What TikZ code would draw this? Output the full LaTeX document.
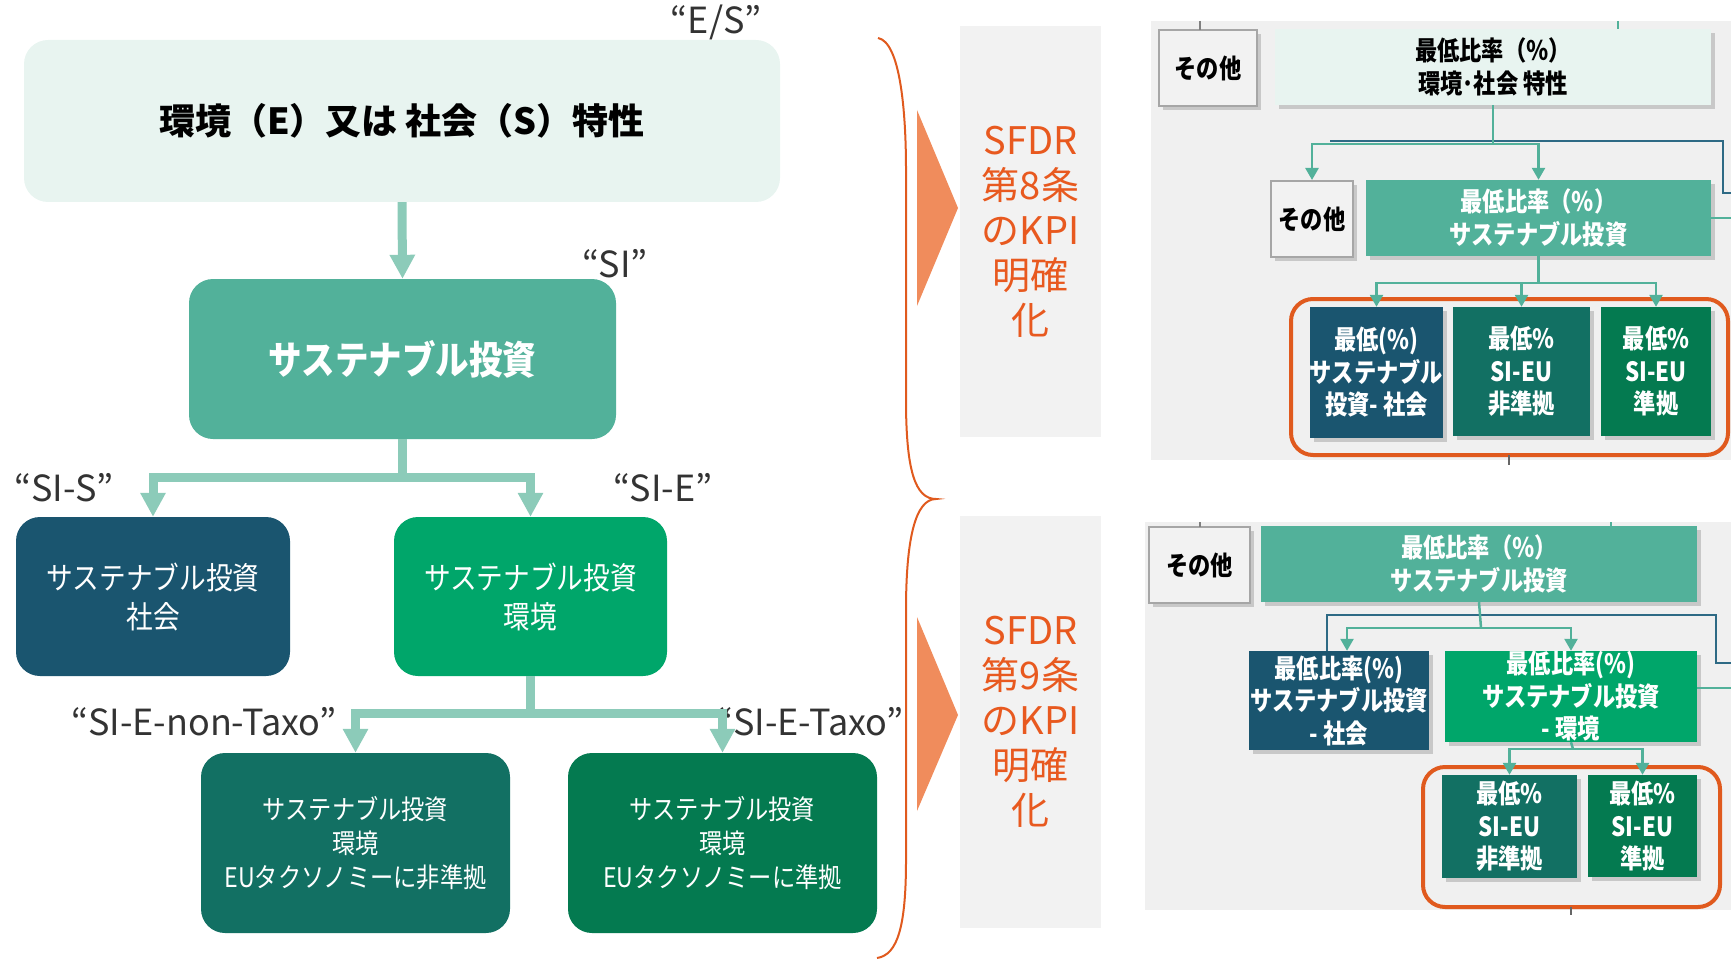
\documentclass[tikz,border=0pt]{standalone}
\usepackage{fontspec}
\setmainfont{Noto Sans CJK JP}
\newfontfamily\narrowjp[FakeStretch=0.86]{Noto Sans CJK JP}
\newfontfamily\boxjp[FakeStretch=0.84]{Noto Sans CJK JP}
\usetikzlibrary{arrows.meta,shadows}

\definecolor{mintpale}{HTML}{E8F4F0}
\definecolor{siteal}{HTML}{52B19A}
\definecolor{linkteal}{HTML}{8CCBB9}
\definecolor{socblue}{HTML}{1A556F}
\definecolor{envgreen}{HTML}{00A66A}
\definecolor{nontaxo}{HTML}{127063}
\definecolor{taxo}{HTML}{047A50}
\definecolor{sfdrorange}{HTML}{E8591F}
\definecolor{chevron}{HTML}{F08C5C}
\definecolor{panelgrey}{HTML}{F2F2F2}
\definecolor{shotgrey}{HTML}{F0F0F0}
\definecolor{framered}{HTML}{E05A1E}
\definecolor{linkblue}{HTML}{2E6A85}

\begin{document}
\begin{tikzpicture}[x=1pt, y=-1pt,
    bigbox/.style = {shape=rectangle, rounded corners=24pt, align=center,
      inner sep=0pt, text=white},
    tag/.style = {font=\fontsize{36}{36}\selectfont, text=black!80,
      inner sep=0pt},
    link/.style = {draw=linkteal, line width=9pt},
    linkarrow/.style = {link, -{Triangle[length=24pt,width=24pt]}},
    kpi/.style = {fill=panelgrey, minimum width=141pt, minimum height=411pt,
      align=center, text=sfdrorange, font=\fontsize{38}{45}\selectfont},
    minbox/.style = {shape=rectangle, align=center, inner sep=0pt, text=white,
      font=\boxjp\bfseries\fontsize{26.5}{32.5}\selectfont,
      drop shadow={shadow xshift=4pt, shadow yshift=-4pt, opacity=0.35}},
    otherbox/.style = {minbox, fill=panelgrey, draw=black!35, line width=2pt,
      text=black},
    minline/.style = {draw=siteal, line width=2.5pt},
    minlink/.style = {minline, -{Triangle[length=12pt,width=13pt]}},
    blueline/.style = {draw=linkblue, line width=2pt},
    frame/.style = {draw=framered, line width=4pt, rounded corners=22pt}]

  \useasboundingbox (0,0) rectangle (1731,960);

  \node[bigbox, fill=mintpale, text=black, minimum width=756pt, minimum height=162pt,
    font=\bfseries\fontsize{36}{36}\selectfont] (es) at (402,121) {環境（E）又は 社会（S）特性};
  \node[bigbox, fill=siteal, minimum width=427pt, minimum height=160pt,
    font=\narrowjp\bfseries\fontsize{39}{39}\selectfont] (si) at (402.5,359) {サステナブル投資};
  \node[bigbox, fill=socblue, minimum width=274pt, minimum height=159pt,
    font=\narrowjp\fontsize{31}{39}\selectfont] (sis) at (153,596.5) {サステナブル投資\\社会};
  \node[bigbox, fill=envgreen, minimum width=273pt, minimum height=159pt,
    font=\narrowjp\fontsize{31}{39}\selectfont] (sie) at (530.5,596.5) {サステナブル投資\\環境};
  \node[bigbox, fill=nontaxo, minimum width=309pt, minimum height=180pt,
    font=\narrowjp\fontsize{27}{34}\selectfont] (nontx) at (355.5,843)
    {サステナブル投資\\環境\\EUタクソノミーに非準拠};
  \node[bigbox, fill=taxo, minimum width=309pt, minimum height=180pt,
    font=\narrowjp\fontsize{27}{34}\selectfont] (tx) at (722.5,843)
    {サステナブル投資\\環境\\EUタクソノミーに準拠};

  \node[tag] (estag) at (716,22) {“E/S”};
  \node[tag] (sitag) at (615,264) {“SI”};
  \node[tag] (sistag) at (64,488) {“SI-S”};
  \node[tag] (sietag) at (663,488) {“SI-E”};
  \node[tag] (nontag) at (204,722) {“SI-E-non-Taxo”};
  \node[tag] (txtag) at (810,722) {“SI-E-Taxo”};

  \coordinate (fork1) at (402.5,477);
  \coordinate (fork2) at (530.5,713);
  \draw[linkarrow] (es.south) -- (si.north);
  \draw[link] (si.south) -- (fork1);
  \draw[linkarrow] (fork1) -| (sis.north);
  \draw[linkarrow] (fork1) -| (sie.north);
  \draw[link] (sie.south) -- (fork2);
  \draw[linkarrow] (fork2) -| (nontx.north);
  \draw[linkarrow] (fork2) -| (tx.north);

  \draw[framered, line width=2pt] (878,38) .. controls (900,42) and (906,110) .. (906,170)
    -- (906,400) .. controls (906,470) and (915,499) .. (936,499)
    .. controls (915,499) and (906,540) .. (906,610)
    -- (906,860) .. controls (906,925) and (898,955) .. (877,958);
  \fill[chevron] (917,110) -- (958,208) -- (917,306) -- cycle;
  \fill[chevron] (917,617) -- (958,715) -- (917,811) -- cycle;

  \node[kpi] (art8) at (1030.5,231.5) {SFDR\\第8条\\のKPI\\明確\\化};
  \node[kpi, minimum height=412pt] (art9) at (1030.5,722) {SFDR\\第9条\\のKPI\\明確\\化};

  \fill[shotgrey] (1151,21) rectangle (1731,460);
  \fill[shotgrey] (1145,522) rectangle (1731,910);

  \node[otherbox, minimum width=98pt, minimum height=76pt] (oth1) at (1208,68) {その他};
  \node[minbox, fill=mintpale, text=black, minimum width=436pt, minimum height=76pt]
    (esmin) at (1493,67) {最低比率（％）\\環境･社会 特性};
  \node[otherbox, minimum width=82pt, minimum height=76pt] (oth2) at (1312,219) {その他};
  \node[minbox, fill=siteal, minimum width=345pt, minimum height=76pt]
    (simin) at (1538.5,218) {最低比率（％）\\サステナブル投資};
  \draw[frame] (1291,299) rectangle (1728,455);
  \node[minbox, fill=socblue, minimum width=127pt, minimum height=131pt]
    (sismin) at (1376.5,372.5) {最低(\%)\\サステナブル\\投資- 社会};
  \node[minbox, fill=nontaxo, minimum width=137pt, minimum height=129pt]
    (nonmin) at (1521.5,371.5) {最低\%\\SI-EU\\非準拠};
  \node[minbox, fill=taxo, minimum width=110pt, minimum height=129pt]
    (txmin) at (1656,371.5) {最低\%\\SI-EU\\準拠};

  \coordinate (fork3) at (1493,144);
  \coordinate (blue1) at (1330,141);
  \coordinate (blue1end) at (1731,193);
  \coordinate (teal1end) at (1731,218);
  \coordinate (fork4) at (1538.5,283);
  \draw[blueline] (blue1) -- (1723,141) |- (blue1end);
  \draw[minline] (simin.east) -- (teal1end);
  \draw[minline] (esmin.south) -- (fork3);
  \draw[minlink] (fork3) -| (oth2.north);
  \draw[minlink] (fork3) -| (simin.north);
  \draw[minline] (simin.south) -- (fork4);
  \draw[minlink] (fork4) -| (sismin.north);
  \draw[minlink] (fork4) -| (nonmin.north);
  \draw[minlink] (fork4) -| (txmin.north);
  \draw[draw=black!50, line width=1.5pt] (1200,21) -- (1200,30);
  \draw[draw=siteal, line width=1.5pt] (1618,21) -- (1618,29);
  \draw[draw=black!60, line width=1.5pt] (1509,455) -- (1509,465);

  \node[otherbox, minimum width=101pt, minimum height=76pt] (oth3) at (1199.5,565) {その他};
  \node[minbox, fill=siteal, minimum width=436pt, minimum height=76pt]
    (simin2) at (1479,564) {最低比率（％）\\サステナブル投資};
  \node[minbox, fill=socblue, minimum width=180pt, minimum height=99pt]
    (socmin) at (1339,700.5) {最低比率(\%)\\サステナブル投資\\- 社会};
  \node[minbox, fill=envgreen, minimum width=252pt, minimum height=91pt]
    (envmin) at (1571,696.5) {最低比率(\%)\\サステナブル投資\\- 環境};
  \draw[frame] (1423,767) rectangle (1720,907);
  \node[minbox, fill=nontaxo, minimum width=135pt, minimum height=103pt]
    (nonmin2) at (1509.5,826.5) {最低\%\\SI-EU\\非準拠};
  \node[minbox, fill=taxo, minimum width=109pt, minimum height=102pt]
    (txmin2) at (1642.5,826) {最低\%\\SI-EU\\準拠};

  \coordinate (fork5) at (1481,628);
  \coordinate (blue2end) at (1731,663);
  \coordinate (teal2end) at (1731,688);
  \coordinate (fork6) at (1573,749);
  \draw[blueline] ([xshift=-12pt]socmin.north) |- (1716,615) |- (blue2end);
  \draw[minline] (envmin.east |- teal2end) -- (teal2end);
  \draw[minline] (simin2.south) -- (fork5);
  \draw[minlink] (fork5) -| ([xshift=8pt]socmin.north);
  \draw[minlink] (fork5) -| (envmin.north);
  \draw[minline] (envmin.south) -- (fork6);
  \draw[minlink] (fork6) -| (nonmin2.north);
  \draw[minlink] (fork6) -| (txmin2.north);
  \draw[draw=black!50, line width=1.5pt] (1200,522) -- (1200,527);
  \draw[draw=siteal, line width=1.5pt] (1611,522) -- (1611,526);
  \draw[draw=black!60, line width=1.5pt] (1571,907) -- (1571,915);
\end{tikzpicture}
\end{document}
